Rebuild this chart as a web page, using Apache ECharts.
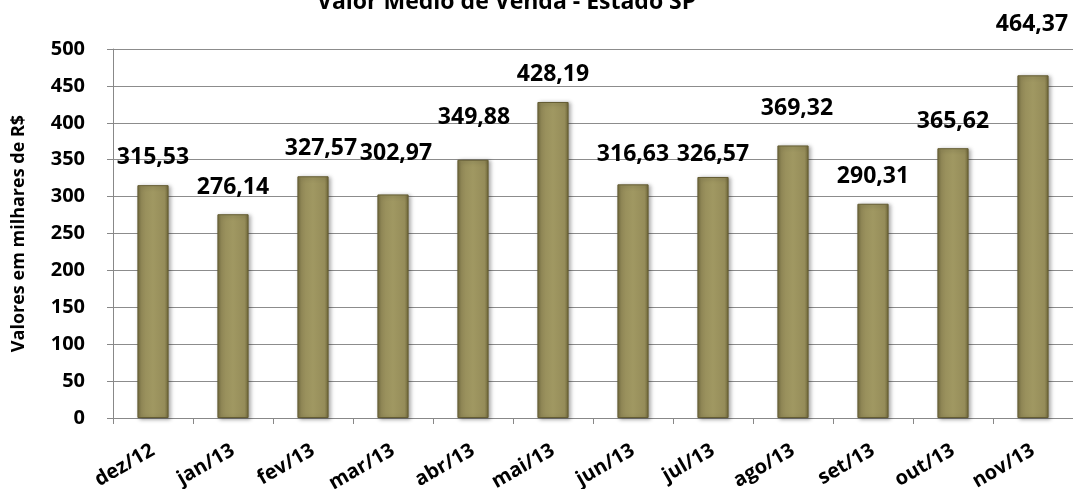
<!DOCTYPE html>
<html>
<head>
<meta charset="utf-8">
<script src="https://cdn.jsdelivr.net/npm/echarts@6/dist/echarts.min.js"></script>
<style>
html,body{margin:0;padding:0;background:#fff;}
#chart{width:1073px;height:489px;}
</style>
</head>
<body>
<div id="chart"></div>
<script>
const titleText = 'Valor Médio de Venda - Estado SP';
const yAxisName = 'Valores em milhares de R$';
const categories = ['dez/12','jan/13','fev/13','mar/13','abr/13','mai/13','jun/13','jul/13','ago/13','set/13','out/13','nov/13'];
const values = [315.53, 276.14, 327.57, 302.97, 349.88, 428.19, 316.63, 326.57, 369.32, 290.31, 365.62, 464.37];
const yTicks = [0, 50, 100, 150, 200, 250, 300, 350, 400, 450, 500];
// label placement tweaks (layout only)
const labelOffsets = [[0,-16],[0,-15],[8,-16],[3,-29],[1,-31],[0,-16],[0,-18],[0,-11],[4,-25],[0,-16],[0,-15],[-1,-39]];

const FONT = '"Open Sans", "Noto Sans", sans-serif';
const barColor = {
  type: 'linear', x: 0, y: 0, x2: 1, y2: 0,
  colorStops: [
    {offset: 0, color: '#726a3c'},
    {offset: 0.12, color: '#958c59'},
    {offset: 0.5, color: '#a09862'},
    {offset: 0.88, color: '#958c59'},
    {offset: 1, color: '#6e6638'}
  ]
};

const chart = echarts.init(document.getElementById('chart'), null, {renderer: 'canvas'});
chart.setOption({
  animation: false,
  backgroundColor: '#ffffff',
  title: {
    text: titleText,
    left: 312,
    top: -14,
    textStyle: {fontFamily: FONT, fontWeight: 'bold', fontSize: 23, color: '#000'}
  },
  grid: {left: 113, right: 0, top: 49, bottom: 71, containLabel: false, outerBoundsMode: 'none'},
  xAxis: {
    type: 'category',
    data: categories,
    boundaryGap: true,
    axisLine: {show: true, lineStyle: {color: '#888888', width: 1}},
    axisTick: {show: true, alignWithLabel: false, length: 6, lineStyle: {color: '#888888'}},
    axisLabel: {
      rotate: 30, margin: 31, interval: 0,
      fontFamily: FONT, fontWeight: 'bold', fontSize: 20, color: '#000'
    }
  },
  yAxis: {
    type: 'value',
    min: 0, max: 500, interval: 50,
    name: yAxisName,
    nameLocation: 'middle',
    nameGap: 85,
    nameRotate: 90,
    nameTextStyle: {fontFamily: FONT, fontWeight: 'bold', fontSize: 18, color: '#000'},
    axisLine: {show: true, lineStyle: {color: '#888888', width: 1}},
    axisTick: {show: true, length: 6, lineStyle: {color: '#888888'}},
    axisLabel: {
      margin: 28,
      fontFamily: FONT, fontWeight: 'bold', fontSize: 20, color: '#000',
      formatter: function (v) { return yTicks.indexOf(v) >= 0 ? String(v) : ''; }
    },
    splitLine: {show: true, lineStyle: {color: '#8c8c8c', width: 1}}
  },
  series: [{
    type: 'bar',
    barWidth: '39%',
    data: values.map(function (v, i) {
      return {
        value: v,
        label: {offset: labelOffsets[i]}
      };
    }),
    itemStyle: {
      color: barColor,
      borderColor: '#655d33',
      borderWidth: 1,
      shadowBlur: 4,
      shadowColor: 'rgba(0,0,0,0.35)',
      shadowOffsetX: 2,
      shadowOffsetY: 1
    },
    label: {
      show: true,
      position: 'top',
      distance: 0,
      fontFamily: FONT, fontWeight: 'bold', fontSize: 23, color: '#000',
      formatter: function (p) { return p.value.toFixed(2).replace('.', ','); }
    }
  }]
});
</script>
</body>
</html>
